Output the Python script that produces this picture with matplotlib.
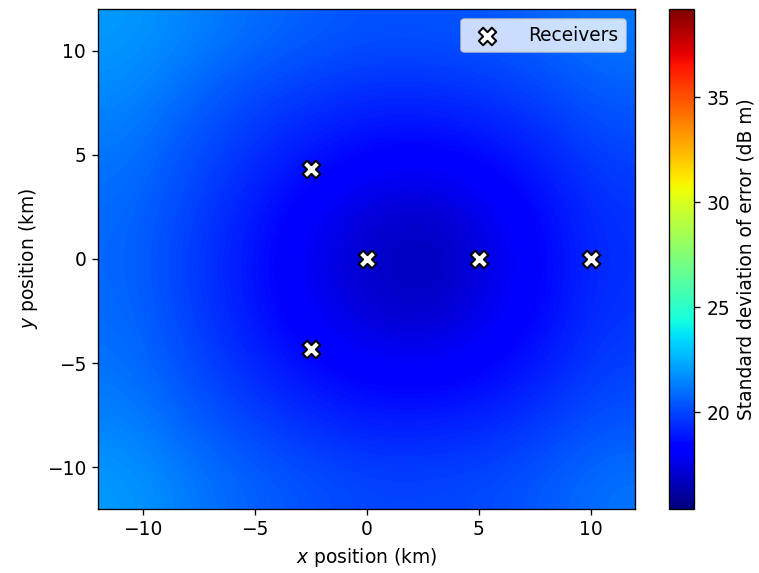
"""Standard deviation of localisation error over the grid, with receiver sites."""

import numpy as np
import matplotlib
matplotlib.use("Agg")
import matplotlib.pyplot as plt

plt.rcParams.update({"font.size": 11.2})

x_nodes = [-12, -9, -6, -3, 0, 3, 6, 9, 12]
y_nodes = [12, 9, 6, 3, 0, -3, -6, -9, -12]   # top row first

# std of error (dB m), rows follow y_nodes, columns follow x_nodes
std_err = [
    [22.0, 21.5, 21.0, 20.6, 20.3, 20.3, 20.4, 20.8, 21.2],
    [21.6, 20.9, 20.1, 19.7, 19.4, 19.4, 19.6, 20.0, 20.6],
    [21.2, 20.3, 19.6, 19.0, 18.5, 18.4, 18.7, 19.3, 20.0],
    [20.9, 20.0, 19.1, 18.2, 17.4, 17.1, 17.8, 18.7, 19.6],
    [20.8, 19.8, 18.9, 17.8, 16.9, 16.4, 17.4, 18.5, 19.5],
    [20.9, 19.9, 19.0, 18.0, 17.2, 16.9, 17.7, 18.6, 19.6],
    [21.1, 20.2, 19.4, 18.7, 18.2, 18.1, 18.4, 19.1, 19.9],
    [21.5, 20.7, 20.0, 19.5, 19.1, 19.1, 19.3, 19.8, 20.4],
    [22.0, 21.3, 20.7, 20.3, 20.0, 20.0, 20.1, 20.5, 21.1],
]
vmin, vmax = 15.4, 39.2

# receiver positions (km)
rx_x = [-2.5, 0.0, 5.0, 10.0, -2.5]
rx_y = [4.33, 0.0, 0.0, 0.0, -4.33]

fig = plt.figure(figsize=(759 / 120, 573 / 120), dpi=120)
ax = fig.add_axes([0.129, 0.112, 0.708, 0.872])
cax = fig.add_axes([0.881, 0.112, 0.034, 0.872])

im = ax.imshow(np.array(std_err), cmap="jet", vmin=vmin, vmax=vmax,
               extent=[min(x_nodes), max(x_nodes), min(y_nodes), max(y_nodes)],
               aspect="auto", interpolation="bicubic")
ax.scatter(rx_x, rx_y, marker="X", s=110, c="white", edgecolors="black",
           linewidths=1.2, label="Receivers", zorder=3)

ax.set_xlim(-12, 12)
ax.set_ylim(-12, 12)
ax.set_xticks([-10, -5, 0, 5, 10])
ax.set_yticks([-10, -5, 0, 5, 10])
ax.set_xlabel("$x$ position (km)")
ax.set_ylabel("$y$ position (km)")
ax.legend(loc="upper right", handletextpad=1.2)

cb = fig.colorbar(im, cax=cax)
cb.set_ticks([20, 25, 30, 35])
cb.set_label("Standard deviation of error (dB m)")

fig.savefig("out.png", dpi=120)
